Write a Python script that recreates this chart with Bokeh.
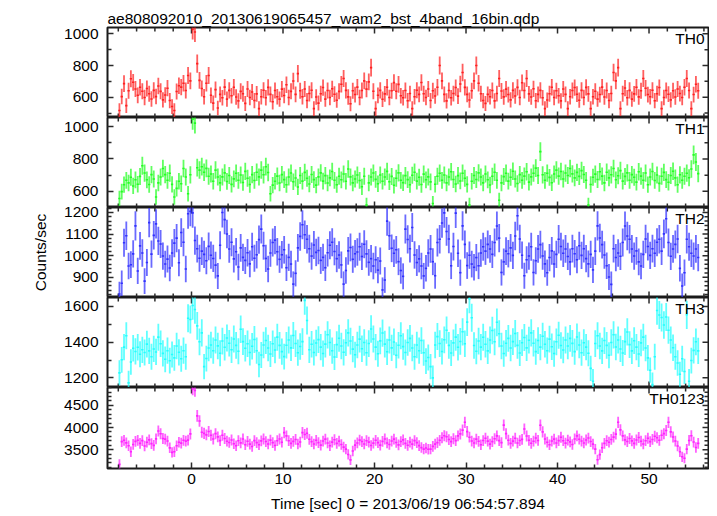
from bokeh.plotting import figure
from bokeh.models import LinearAxis, FixedTicker, Range1d, ColumnDataSource, Label
from bokeh.layouts import column
from bokeh.embed import file_html
from bokeh.resources import INLINE
import math

# ---------------- data ----------------
T_START = -7.875   # centre of first bin [s]
BIN = 0.25         # bin width [s]

TH0 = [
    516, 604, 686, 547, 641, 717, 694, 652,
    612, 663, 638, 598, 655, 622, 589, 643,
    604, 671, 637, 583, 614, 657, 579, 541,
    516, 636, 672, 664, 688, 642, 737, 703,
    1028, 1012, 812, 706, 655, 603, 688, 737,
    612, 563, 648, 532, 618, 597, 664, 588,
    643, 609, 663, 601, 577, 637, 622, 561,
    652, 598, 633, 579, 621, 528, 603, 644,
    597, 662, 618, 571, 642, 603, 588, 651,
    611, 679, 598, 637, 702, 618, 749, 641,
    603, 652, 579, 623, 644, 528, 601, 563,
    622, 661, 588, 642, 598, 653, 619, 581,
    637, 682, 718, 643, 602, 559, 641, 617,
    664, 598, 642, 703, 651, 697, 787, 638,
    528, 612, 643, 587, 621, 663, 598, 641,
    692, 638, 681, 609, 597, 642, 578, 623,
    528, 603, 644, 618, 693, 622, 598, 652,
    579, 641, 608, 663, 800, 703, 618, 577,
    642, 597, 623, 661, 607, 683, 756, 662,
    618, 582, 641, 703, 800, 688, 622, 579,
    561, 618, 603, 642, 577, 623, 718, 639,
    602, 651, 617, 583, 643, 608, 662, 598,
    691, 642, 718, 621, 601, 653, 578, 618,
    643, 597, 528, 582, 622, 663, 598, 641,
    609, 577, 652, 618, 528, 603, 642, 661,
    619, 581, 643, 598, 662, 621, 528, 603,
    638, 588, 617, 664, 601, 642, 579, 623,
    756, 703, 787, 528, 622, 658, 597, 643,
    588, 621, 663, 602, 641, 718, 657, 617,
    603, 644, 578, 622, 661, 528, 598, 642,
    619, 583, 641, 601, 652, 623, 598, 663,
    718, 642, 528, 617, 682, 641,
]

TH1 = [
    556, 598, 641, 668, 652, 687, 633, 671,
    644, 692, 758, 713, 671, 642, 703, 676,
    565, 652, 688, 741, 703, 668, 712, 643,
    565, 618, 662, 647, 741, 688, 585, 702,
    1045, 1021, 746, 731, 752, 718, 742, 693,
    707, 662, 731, 688, 652, 689, 714, 661,
    698, 643, 677, 712, 668, 701, 654, 723,
    681, 642, 703, 667, 718, 689, 731, 702,
    752, 716, 585, 638, 662, 694, 651, 703,
    672, 641, 688, 713, 659, 682, 627, 698,
    663, 717, 681, 645, 704, 672, 638, 689,
    714, 663, 697, 651, 683, 722, 668, 641,
    693, 671, 707, 662, 738, 689, 652, 676,
    701, 667, 628, 693, 515, 652, 688, 713,
    674, 647, 701, 662, 688, 723, 659, 692,
    637, 681, 714, 668, 653, 697, 672, 641,
    699, 718, 663, 687, 642, 706, 671, 689,
    658, 525, 644, 693, 712, 668, 701, 652,
    688, 721, 673, 645, 697, 664, 712, 681,
    643, 515, 662, 698, 673, 714, 688, 652,
    707, 671, 639, 693, 718, 668, 545, 652,
    691, 712, 663, 687, 724, 676, 648, 703,
    668, 694, 721, 657, 689, 712, 743, 698,
    845, 702, 668, 712, 686, 653, 707, 731,
    694, 722, 676, 713, 698, 741, 708, 683,
    717, 692, 728, 704, 668, 515, 642, 687,
    706, 673, 721, 694, 652, 718, 683, 702,
    741, 671, 696, 728, 663, 692, 714, 668,
    703, 687, 657, 721, 694, 668, 713, 641,
    688, 722, 667, 701, 649, 693, 717, 672,
    656, 698, 724, 683, 641, 702, 668, 693,
    712, 684, 738, 825, 781, 709,
]

TH2 = [
    822, 872, 1060, 1092, 952, 958, 1008, 1138,
    929, 1045, 1012, 882, 968, 1153, 1007, 1094,
    1147, 1068, 1054, 998, 961, 984, 943, 1012,
    1058, 1081, 967, 1107, 1062, 938, 1194, 1205,
    1198, 1070, 1032, 988, 1021, 1006, 976, 1043,
    1002, 987, 956, 906, 1048, 1200, 1167, 1100,
    1031, 1062, 985, 1018, 947, 1036, 992, 978,
    1013, 962, 1041, 988, 1004, 1074, 1123, 1046,
    987, 938, 1012, 1061, 1072, 1018, 983, 1004,
    1027, 944, 992, 961, 868, 918, 1036, 1089,
    1143, 1097, 1076, 1032, 998, 1049, 1015, 1024,
    978, 992, 944, 1013, 1048, 1062, 1019, 986,
    1003, 957, 868, 931, 1022, 1038, 983, 1009,
    1017, 1041, 996, 1053, 1008, 969, 986, 952,
    981, 933, 975, 841, 887, 1160, 1092, 1034,
    1011, 1027, 972, 931, 904, 1123, 1075, 1032,
    1130, 1003, 968, 985, 952, 906, 941, 1012,
    1031, 972, 907, 1061, 1076, 1151, 1198, 1112,
    1077, 953, 1042, 1197, 1011, 921, 1138, 1052,
    954, 1002, 961, 946, 991, 953, 1012, 1041,
    1021, 1052, 1031, 1006, 1061, 1137, 1081, 922,
    971, 1021, 1009, 1036, 1001, 1091, 1185, 1077,
    1002, 907, 981, 998, 1041, 922, 976, 1031,
    1051, 998, 962, 921, 991, 1022, 961, 1006,
    1076, 1042, 1011, 1031, 996, 971, 1032, 1009,
    981, 1046, 1001, 1032, 986, 962, 1006, 934,
    1021, 1138, 1082, 1051, 1003, 953, 901, 867,
    1032, 991, 1012, 997, 1061, 1137, 1091, 1076,
    1031, 998, 1022, 971, 952, 1006, 1077, 1042,
    1001, 1032, 1011, 1062, 1076, 1021, 1101, 1171,
    1061, 997, 1031, 1052, 1077, 941, 859, 921,
    1076, 1041, 1011, 998, 1031, 991,
]

TH3 = [
    1228, 1301, 1372, 1436, 1172, 1289, 1366, 1348,
    1371, 1332, 1357, 1342, 1389, 1351, 1318, 1362,
    1345, 1428, 1391, 1337, 1304, 1352, 1296, 1331,
    1312, 1378, 1343, 1307, 1352, 1318, 1534, 1527,
    1605, 1583, 1491, 1402, 1452, 1263, 1308, 1367,
    1384, 1352, 1412, 1379, 1338, 1406, 1371, 1423,
    1394, 1357, 1418, 1382, 1349, 1472, 1403, 1366,
    1391, 1342, 1377, 1415, 1352, 1275, 1328, 1384,
    1409, 1367, 1334, 1391, 1356, 1428, 1382, 1347,
    1319, 1383, 1412, 1368, 1437, 1392, 1341, 1376,
    1403, 1634, 1521, 1357, 1388, 1342, 1395, 1414,
    1372, 1336, 1389, 1441, 1398, 1352, 1317, 1386,
    1422, 1378, 1343, 1397, 1452, 1406, 1361, 1329,
    1384, 1417, 1363, 1398, 1341, 1392, 1474, 1418,
    1372, 1335, 1407, 1451, 1389, 1346, 1412, 1368,
    1401, 1327, 1383, 1436, 1375, 1342, 1398, 1421,
    1367, 1318, 1384, 1352, 1409, 1341, 1294, 1314,
    1263, 1200, 1384, 1431, 1392, 1348, 1413, 1467,
    1382, 1339, 1396, 1428, 1371, 1404, 1458, 1391,
    1512, 1643, 1537, 1381, 1349, 1406, 1372, 1427,
    1388, 1351, 1412, 1465, 1402, 1511, 1447, 1378,
    1336, 1394, 1421, 1367, 1403, 1448, 1382, 1339,
    1397, 1426, 1368, 1411, 1452, 1394, 1347, 1409,
    1372, 1433, 1388, 1352, 1417, 1374, 1336, 1402,
    1439, 1381, 1356, 1412, 1378, 1421, 1393, 1347,
    1429, 1384, 1341, 1397, 1372, 1338, 1253, 1181,
    1392, 1436, 1378, 1351, 1409, 1382, 1327, 1398,
    1441, 1373, 1412, 1362, 1339, 1403, 1457, 1386,
    1351, 1408, 1372, 1334, 1396, 1428, 1367, 1312,
    1243, 1162, 1318, 1577, 1552, 1538, 1496, 1541,
    1467, 1412, 1369, 1318, 1283, 1220, 1307, 1236,
    1553, 1181, 1297, 1354, 1402, 1351,
]

TH0123 = [
    3168, 3682, 3711, 3654, 3589, 3452, 3618, 3687,
    3712, 3641, 3703, 3582, 3668, 3721, 3637, 3596,
    3744, 3923, 3861, 3752, 3738, 3694, 3541, 3438,
    3452, 3589, 3667, 3648, 3712, 3693, 3716, 3856,
    4872, 4836, 4263, 4148, 3893, 3868, 3834, 3912,
    3826, 3741, 3862, 3788, 3703, 3824, 3752, 3691,
    3662, 3718, 3634, 3587, 3702, 3653, 3741, 3612,
    3689, 3624, 3573, 3704, 3658, 3612, 3698, 3741,
    3683, 3627, 3716, 3658, 3594, 3702, 3741, 3668,
    3885, 3812, 3702, 3643, 3688, 3731, 3627, 3672,
    3885, 3842, 3871, 3734, 3681, 3627, 3712, 3658,
    3603, 3694, 3738, 3652, 3589, 3671, 3724, 3643,
    3692, 3617, 3558, 3512, 3392, 3270, 3468, 3603,
    3652, 3716, 3684, 3628, 3702, 3671, 3594, 3648,
    3712, 3658, 3603, 3687, 3741, 3652, 3618, 3694,
    3738, 3662, 3607, 3684, 3721, 3643, 3598, 3672,
    3624, 3703, 3658, 3591, 3547, 3512, 3536, 3508,
    3512, 3574, 3626, 3658, 3712, 3768, 3815, 3792,
    3728, 3682, 3746, 3703, 3812, 3856, 3942, 4118,
    3908, 3782, 3694, 3651, 3738, 3689, 3612, 3706,
    3758, 3692, 3624, 3681, 3746, 3812, 3703, 3658,
    4055, 3862, 3714, 3642, 3693, 3758, 3651, 3706,
    3732, 3968, 3808, 3712, 3644, 3691, 3762, 3708,
    4053, 3902, 3741, 3668, 3612, 3694, 3738, 3652,
    3703, 3781, 3702, 3648, 3714, 3676, 3617, 3742,
    3812, 3736, 3694, 3651, 3718, 3762, 3683, 3624,
    3512, 3273, 3388, 3542, 3641, 3702, 3668, 3731,
    3783, 3852, 4118, 3948, 3812, 3721, 3684, 3752,
    3698, 3642, 3718, 3774, 3691, 3628, 3702, 3758,
    3682, 3731, 3804, 3768, 3712, 3824, 3862, 3934,
    4118, 3902, 3786, 3694, 3582, 3452, 3338, 3306,
    3512, 3708, 3815, 3672, 3548, 3641,
]

SERIES = [TH0, TH1, TH2, TH3, TH0123]
PANEL_NAMES = ["TH0", "TH1", "TH2", "TH3", "TH0123"]
COLORS = ["#ff2020", "#22ff22", "#3030ff", "#22ffff", "#ff22ff"]
Y_RANGES = [(472, 1040), (500, 1056), (806, 1223), (1146, 1650), (3074, 4905)]
Y_MAJOR = [[600, 800, 1000], [600, 800, 1000], [900, 1000, 1100, 1200],
           [1200, 1400, 1600], [3500, 4000, 4500]]
Y_MINOR = [[500, 700, 900], [700, 900],
           [820, 840, 860, 880, 920, 940, 960, 980, 1020, 1040, 1060, 1080,
            1120, 1140, 1160, 1180, 1220],
           [1300, 1500],
           [3100, 3200, 3300, 3400, 3600, 3700, 3800, 3900, 4100, 4200, 4300,
            4400, 4600, 4700, 4800, 4900]]
X_RANGE = (-9.18, 56.5)
X_MAJOR = [0, 10, 20, 30, 40, 50]
X_MINOR = [-8, -6, -4, -2, 2, 4, 6, 8, 12, 14, 16, 18, 22, 24, 26, 28,
           32, 34, 36, 38, 42, 44, 46, 48, 52, 54, 56]
TITLE = "ae808092010_20130619065457_wam2_bst_4band_16bin.qdp"
XLABEL = "Time [sec] 0 = 2013/06/19 06:54:57.894"
YLABEL = "Counts/sec"

# ---------------- style ----------------
FONT = "Liberation Sans"
FS = "15.5px"
LEFT = 107
RIGHT = 1
FRAME_W = 601
W = LEFT + FRAME_W + RIGHT
FRAME_H = [90, 90, 90, 90, 89]
TOP0 = 27
BOTTOM4 = 38
OVERLAP = [0, 0, 8, 0, 0]   # transparent headroom (px) so a top tick label is not clipped
TICK_COL = "#2a2a2a"
MAJ_LEN = 6
MIN_LEN = 4

x_range = Range1d(*X_RANGE)


def style_axis(ax):
    ax.axis_line_color = None
    ax.major_tick_in = MAJ_LEN
    ax.major_tick_out = 0
    ax.minor_tick_in = MIN_LEN
    ax.minor_tick_out = 0
    ax.major_tick_line_color = TICK_COL
    ax.minor_tick_line_color = TICK_COL
    ax.major_tick_line_width = 1.5
    ax.minor_tick_line_width = 1.5
    ax.major_label_text_font = FONT
    ax.major_label_text_font_size = FS
    ax.major_label_text_color = "black"
    ax.axis_label_text_font = FONT
    ax.axis_label_text_font_size = FS
    ax.axis_label_text_font_style = "normal"
    ax.axis_label_text_color = "black"


def edge_ticks(p, xs, ys, length, angle):
    p.ray(x=xs, y=ys, length=length, angle=angle, length_units="screen",
          line_color=TICK_COL, line_width=1.5)


figs = []
for k in range(5):
    vals = SERIES[k]
    t = [T_START + BIN * i for i in range(len(vals))]
    err = [math.sqrt(v / BIN) for v in vals]
    src = ColumnDataSource(dict(
        t=t, v=vals,
        x0=[a - BIN / 2 for a in t], x1=[a + BIN / 2 for a in t],
        ylo=[v - e for v, e in zip(vals, err)],
        yhi=[v + e for v, e in zip(vals, err)],
    ))
    top = TOP0 if k == 0 else OVERLAP[k]
    bottom = BOTTOM4 if k == 4 else 0
    y0, y1 = Y_RANGES[k]
    p = figure(width=W, height=FRAME_H[k] + top + bottom,
               x_range=x_range, y_range=Range1d(y0, y1),
               x_axis_type=None, y_axis_type=None,
               output_backend="svg", toolbar_location=None,
               min_border_left=LEFT, min_border_right=RIGHT,
               min_border_top=top, min_border_bottom=bottom)
    p.outline_line_color = "#1a1a1a"
    p.outline_line_width = 2.0
    p.background_fill_color = "white"
    p.border_fill_color = "white"
    if OVERLAP[k]:
        p.border_fill_color = None
        p.margin = (-OVERLAP[k], 0, 0, 0)

    yt = FixedTicker(ticks=Y_MAJOR[k], minor_ticks=Y_MINOR[k])
    lax = LinearAxis(ticker=yt)
    style_axis(lax)
    lax.major_label_standoff = 9
    if k == 2:
        lax.axis_label = YLABEL
        lax.axis_label_standoff = 12
    p.add_layout(lax, "left")

    if k == 4:
        xt = FixedTicker(ticks=X_MAJOR, minor_ticks=X_MINOR)
        bax = LinearAxis(ticker=xt)
        style_axis(bax)
        bax.major_label_standoff = 5
        bax.axis_label = XLABEL
        bax.axis_label_standoff = 8
        p.add_layout(bax, "below")
    else:
        edge_ticks(p, X_MAJOR, [y0] * len(X_MAJOR), MAJ_LEN, math.pi / 2)
        edge_ticks(p, X_MINOR, [y0] * len(X_MINOR), MIN_LEN, math.pi / 2)
    # top and right inward ticks
    edge_ticks(p, X_MAJOR, [y1] * len(X_MAJOR), MAJ_LEN, -math.pi / 2)
    edge_ticks(p, X_MINOR, [y1] * len(X_MINOR), MIN_LEN, -math.pi / 2)
    edge_ticks(p, [X_RANGE[1]] * len(Y_MAJOR[k]), Y_MAJOR[k], MAJ_LEN, math.pi)
    edge_ticks(p, [X_RANGE[1]] * len(Y_MINOR[k]), Y_MINOR[k], MIN_LEN, math.pi)

    col = COLORS[k]
    p.segment(x0="t", y0="ylo", x1="t", y1="yhi", source=src,
              line_color=col, line_width=1.8, line_alpha=0.72)
    p.segment(x0="x0", y0="v", x1="x1", y1="v", source=src,
              line_color=col, line_width=1.6)

    p.add_layout(Label(x=X_RANGE[1], y=y1, x_offset=-4, y_offset=-2,
                       text=PANEL_NAMES[k], text_align="right", text_baseline="top",
                       text_font=FONT, text_font_size=FS, text_color="black"))

    if k == 0:
        p.title.text = TITLE
        p.title.align = "left"
        p.title.offset = 0
        p.title.text_font = FONT
        p.title.text_font_size = FS
        p.title.text_font_style = "normal"
        p.title.text_color = "black"
        p.title.standoff = 2
    figs.append(p)

layout = column(*figs, spacing=0)
open("out.html", "w").write(file_html(layout, INLINE))
